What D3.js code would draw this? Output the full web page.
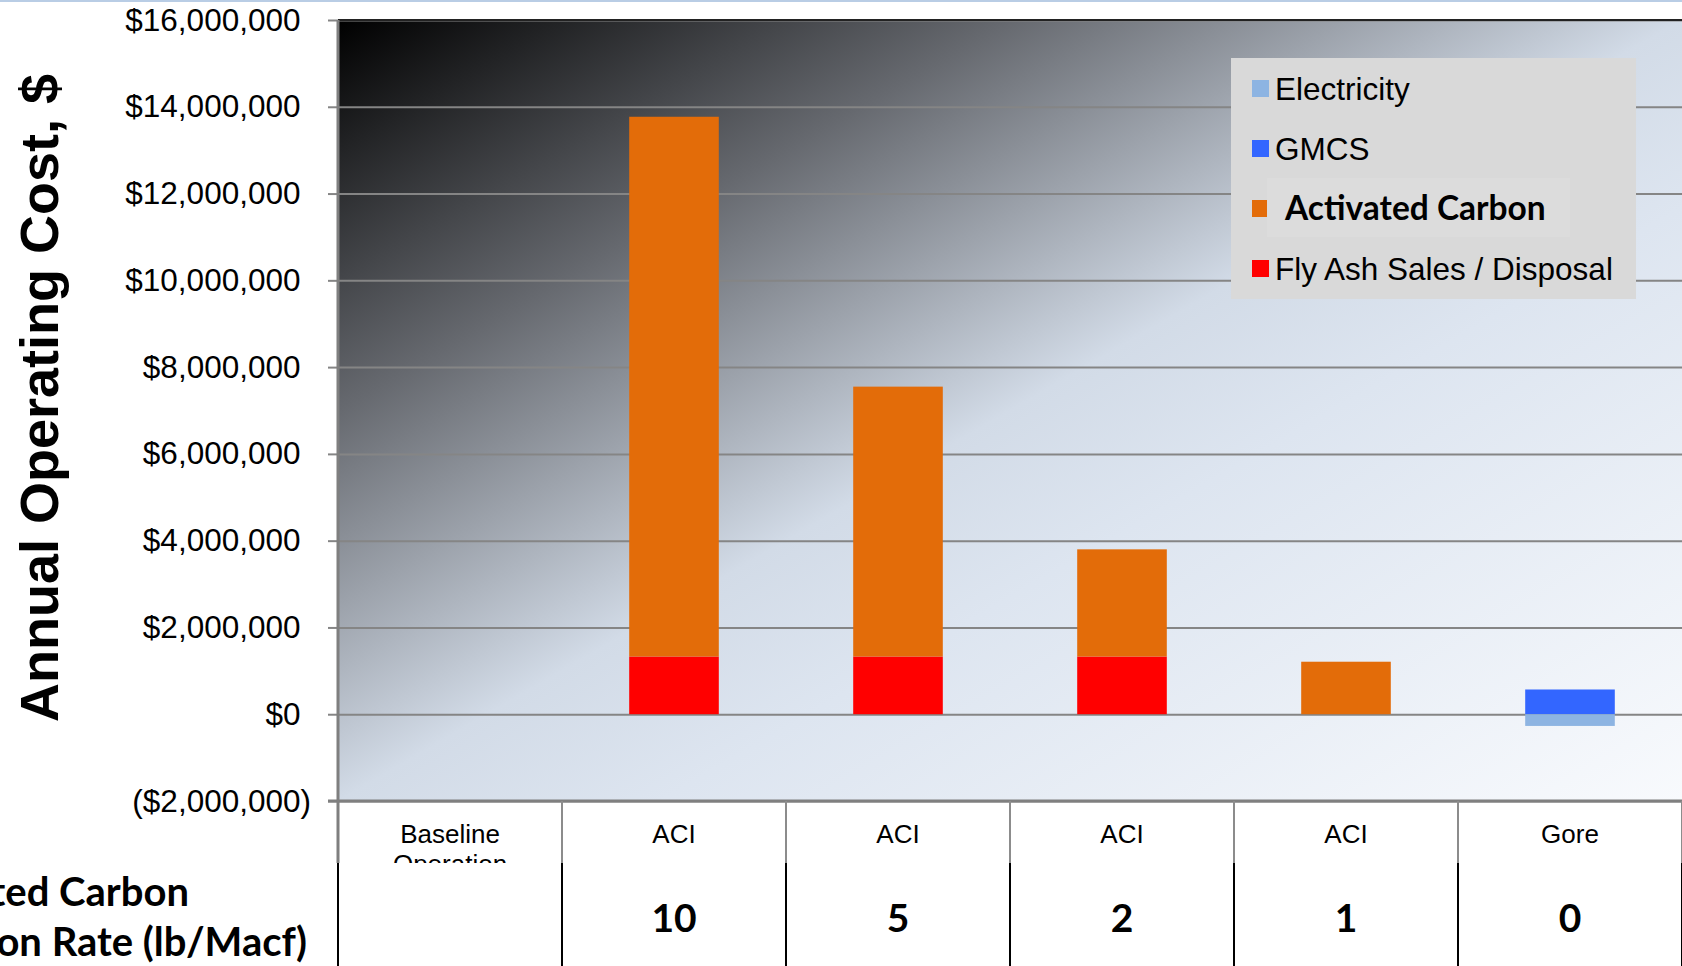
<!DOCTYPE html>
<html>
<head>
<meta charset="utf-8">
<script src="https://cdn.jsdelivr.net/npm/d3@7"></script>
<style>
  html, body { margin: 0; padding: 0; background: #fff; }
  svg { display: block; }
</style>
</head>
<body>
<script>
// chart data
const categories = ["Baseline\nOperation", "ACI", "ACI", "ACI", "ACI", "Gore"];
const injectionRates = ["", "10", "5", "2", "1", "0"];
const electricity = [0, 0, 0, 0, 0, -270000];
const gmcs = [0, 0, 0, 0, 0, 570000];
const activatedCarbon = [0, 12440000, 6220000, 2470000, 1210000, 0];
const flyAsh = [0, 1330000, 1330000, 1330000, 0, 0];
const yTicks = [-2000000, 0, 2000000, 4000000, 6000000, 8000000, 10000000, 12000000, 14000000, 16000000];

const W = 1682, H = 966;
const plot = { left: 338, right: 1682, top: 20, bottom: 801 };
const row1Bottom = 863;

const svg = d3.select("body").append("svg")
  .attr("width", W)
  .attr("height", H);

// background gradient of the plot area
const defs = svg.append("defs");
const grad = defs.append("linearGradient")
  .attr("id", "bg")
  .attr("x1", 0).attr("y1", 0).attr("x2", 1).attr("y2", 1);
[[0, "#000000"], [0.25, "#66696f"], [0.5, "#d2dbe7"], [0.62, "#dde5f0"], [1, "#f8fafd"]]
  .forEach(s => grad.append("stop").attr("offset", s[0]).attr("stop-color", s[1]));

// thin slide rule at the very top
svg.append("rect").attr("x", 0).attr("y", 0).attr("width", W).attr("height", 2).attr("fill", "#b9cde5");

svg.append("rect")
  .attr("x", plot.left).attr("y", plot.top)
  .attr("width", plot.right - plot.left).attr("height", plot.bottom - plot.top)
  .attr("fill", "url(#bg)");

const x = d3.scaleBand()
  .domain(d3.range(categories.length))
  .range([plot.left, plot.right])
  .paddingInner(0.6)
  .paddingOuter(0.3);

const y = d3.scaleLinear()
  .domain([-2000000, 16000000])
  .range([plot.bottom, plot.top]);

// gridlines
svg.append("g")
  .attr("transform", `translate(${plot.left},0)`)
  .call(d3.axisLeft(y).tickValues(yTicks).tickSize(-(plot.right - plot.left)).tickFormat(""))
  .call(g => g.select(".domain").remove())
  .call(g => g.selectAll("line").attr("stroke", "#858585").attr("stroke-width", 2));

// stacked bars
const series = [
  { key: "flyAsh", values: flyAsh, color: "#ff0000" },
  { key: "activatedCarbon", values: activatedCarbon, color: "#e36c09" },
  { key: "gmcs", values: gmcs, color: "#3366ff" },
  { key: "electricity", values: electricity, color: "#8db4e2" }
];
const table = categories.map((c, i) => {
  const row = { i };
  series.forEach(s => row[s.key] = s.values[i]);
  return row;
});
const stack = d3.stack()
  .keys(series.map(s => s.key))
  .offset(d3.stackOffsetDiverging);
const layers = stack(table);

svg.append("g").selectAll("g")
  .data(layers)
  .join("g")
  .attr("fill", (d, k) => series[k].color)
  .selectAll("rect")
  .data(d => d.filter(p => p[1] !== p[0]))
  .join("rect")
  .attr("x", d => x(d.data.i))
  .attr("width", x.bandwidth())
  .attr("y", d => y(Math.max(d[0], d[1])))
  .attr("height", d => Math.abs(y(d[0]) - y(d[1])));

// y axis with ticks and labels
const fmt = d3.format(",.0f");
const yAxis = svg.append("g")
  .attr("transform", `translate(${plot.left},0)`)
  .call(d3.axisLeft(y).tickValues(yTicks).tickSize(10).tickPadding(17)
    .tickFormat(d => d < 0 ? `($${fmt(-d)})` : `$${fmt(d)}`));
yAxis.select(".domain").remove();
yAxis.selectAll("line").attr("stroke", "#858585").attr("stroke-width", 2);
yAxis.selectAll("text")
  .attr("fill", "#000")
  .style("font-family", "'Liberation Sans', Arial, sans-serif")
  .style("font-size", "31.5px")
  .each(function(d) {
    // Excel "_)" keeps positive numbers aligned with the closing bracket
    if (d >= 0) d3.select(this).append("tspan").attr("fill-opacity", 0).text(")");
  });

// plot frame
svg.append("line")
  .attr("x1", plot.left).attr("x2", plot.right)
  .attr("y1", plot.top).attr("y2", plot.top)
  .attr("stroke", "#222").attr("stroke-width", 2);
svg.append("line")
  .attr("x1", plot.left - 10).attr("x2", plot.right)
  .attr("y1", plot.bottom).attr("y2", plot.bottom)
  .attr("stroke", "#7f7f7f").attr("stroke-width", 3);
svg.append("line")
  .attr("x1", plot.left).attr("x2", plot.left)
  .attr("y1", plot.top).attr("y2", row1Bottom)
  .attr("stroke", "#7f7f7f").attr("stroke-width", 3);

// category row under the plot
const bounds = d3.range(categories.length + 1).map(i => plot.left + i * x.step());
svg.append("g").selectAll("line")
  .data(bounds.slice(1))
  .join("line")
  .attr("x1", d => d).attr("x2", d => d)
  .attr("y1", plot.bottom).attr("y2", row1Bottom)
  .attr("stroke", "#8c8c8c").attr("stroke-width", 2);

svg.append("g").selectAll("text")
  .data(categories)
  .join("text")
  .attr("x", (d, i) => x(i) + x.bandwidth() / 2)
  .attr("y", 843)
  .attr("text-anchor", "middle")
  .style("font-family", "'Liberation Sans', Arial, sans-serif")
  .style("font-size", "26px")
  .attr("fill", "#000")
  .each(function(d) {
    const t = d3.select(this);
    d.split("\n").forEach((line, k) => {
      t.append("tspan").attr("x", t.attr("x")).attr("dy", k === 0 ? 0 : 30).text(line);
    });
  });

// injection-rate row (covers the wrapped label line)
svg.append("rect")
  .attr("x", 0).attr("y", row1Bottom)
  .attr("width", W).attr("height", H - row1Bottom)
  .attr("fill", "#fff");
svg.append("g").selectAll("line")
  .data(bounds)
  .join("line")
  .attr("x1", d => d).attr("x2", d => d)
  .attr("y1", row1Bottom).attr("y2", H)
  .attr("stroke", "#000").attr("stroke-width", 2);

svg.append("g").selectAll("text")
  .data(injectionRates)
  .join("text")
  .attr("x", (d, i) => x(i) + x.bandwidth() / 2)
  .attr("y", 932)
  .attr("text-anchor", "middle")
  .style("font-family", "Lato, 'Open Sans', sans-serif")
  .style("font-weight", 700)
  .style("font-size", "39px")
  .attr("fill", "#000")
  .text(d => d);

// row title; it runs off the left edge of the slide as in the source
const rowTitle = ["Activated Carbon", "Injection Rate (lb/Macf)"];
const rowTitleEnds = [189, 307];
svg.append("g").selectAll("text")
  .data(rowTitle)
  .join("text")
  .attr("x", (d, i) => rowTitleEnds[i])
  .attr("y", (d, i) => 906 + i * 50)
  .attr("text-anchor", "end")
  .style("font-family", "Lato, 'Open Sans', sans-serif")
  .style("font-weight", 700)
  .style("font-size", "40px")
  .attr("fill", "#000")
  .text(d => d);

// y axis title
svg.append("text")
  .attr("transform", "translate(58,398) rotate(-90)")
  .attr("text-anchor", "middle")
  .style("font-family", "'Liberation Sans', Arial, sans-serif")
  .style("font-weight", 700)
  .style("font-size", "54px")
  .attr("fill", "#000")
  .text("Annual Operating Cost, $");

// legend
const legendItems = [
  { name: "Electricity", color: "#8db4e2", bold: false },
  { name: "GMCS", color: "#3366ff", bold: false },
  { name: "Activated Carbon", color: "#e36c09", bold: true },
  { name: "Fly Ash Sales / Disposal", color: "#ff0000", bold: false }
];
const legend = svg.append("g").attr("transform", "translate(1231,58)");
legend.append("rect")
  .attr("width", 405).attr("height", 241)
  .attr("fill", "#d9d9d9");
legend.append("rect")
  .attr("x", 36).attr("y", 120).attr("width", 303).attr("height", 59)
  .attr("fill", "#dcdcdc");
const li = legend.selectAll("g.item")
  .data(legendItems)
  .join("g")
  .attr("class", "item")
  .attr("transform", (d, i) => `translate(0,${30.5 + i * 60})`);
li.append("rect")
  .attr("x", 21).attr("y", -8.5)
  .attr("width", d => d.bold ? 15 : 17).attr("height", 17)
  .attr("fill", d => d.color);
li.append("text")
  .attr("x", d => d.bold ? 54 : 44)
  .attr("y", 11)
  .style("font-family", d => d.bold ? "Lato, 'Open Sans', sans-serif" : "'Liberation Sans', Arial, sans-serif")
  .style("font-weight", d => d.bold ? 700 : 400)
  .style("font-size", d => d.bold ? "33.5px" : "31.5px")
  .attr("fill", "#000")
  .text(d => d.name);
</script>
</body>
</html>
